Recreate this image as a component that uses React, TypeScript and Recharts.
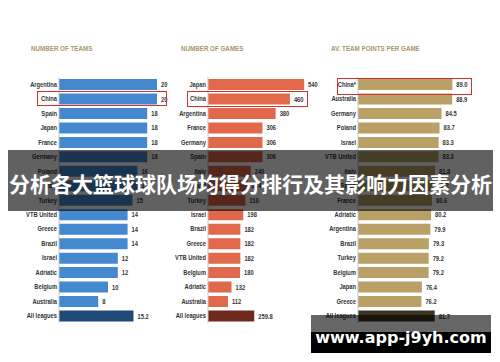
import React from 'react';
import { BarChart, Bar, XAxis, YAxis, Cell, LabelList } from 'recharts';

const teamsCats = ['Argentina', 'China', 'Spain', 'Japan', 'France', 'Germany', 'Poland', 'Italy', 'Turkey', 'VTB United', 'Greece', 'Brazil', 'Israel', 'Adriatic', 'Belgium', 'Australia', 'All leagues'];
const teamsVals = [20, 20, 18, 18, 18, 18, 16, 16, 15, 14, 14, 14, 12, 12, 10, 8, 15.2];

const gamesCats = ['Japan', 'China', 'Argentina', 'France', 'Germany', 'Spain', 'Italy', 'Poland', 'Turkey', 'Israel', 'Brazil', 'Greece', 'VTB United', 'Belgium', 'Adriatic', 'Australia', 'All leagues'];
const gamesVals = [540, 460, 380, 306, 306, 306, 240, 224, 210, 198, 182, 182, 182, 180, 132, 112, 259.8];

const pointsCats = ['China*', 'Australia', 'Germany', 'Poland', 'Israel', 'VTB United', 'Italy', 'Spain', 'France', 'Adriatic', 'Argentina', 'Brazil', 'Turkey', 'Belgium', 'Japan', 'Greece', 'All leagues'];
const pointsVals = [89.0, 88.9, 84.5, 83.7, 83.3, 83.3, 81.8, 81.2, 80.6, 80.2, 79.9, 79.3, 79.2, 79.2, 76.4, 76.2, 81.7];

const titles = ['NUMBER OF TEAMS', 'NUMBER OF GAMES', 'AV. TEAM POINTS PER GAME'];
const bannerText = '分析各大篮球球队场均得分排行及其影响力因素分析';
const watermark = 'www.app-j9yh.com';

const FONT = '"Liberation Sans", Arial, sans-serif';

function CatTick(props: any) {
  const { x, y, payload } = props;
  return (
    <g transform={`translate(${x},${y}) scale(0.8,1)`}>
      <text x={0} y={0} dy="0.35em" textAnchor="end" fontSize={7.2} fontWeight={700} fill="#333" fontFamily={FONT}>
        {payload.value}
      </text>
    </g>
  );
}

function makeValueLabel(fmt: (v: number) => string) {
  return function ValueLabel(props: any) {
    const { x, y, width, height, value } = props;
    const tx = Number(x) + Number(width) + 4;
    const ty = Number(y) + Number(height) / 2;
    return (
      <g transform={`translate(${tx},${ty}) scale(0.8,1)`}>
        <text x={0} y={0} dy="0.35em" textAnchor="start" fontSize={7.2} fontWeight={700} fill="#333" fontFamily={FONT}>
          {fmt(Number(value))}
        </text>
      </g>
    );
  };
}

type PanelProps = {
  left: number;
  axisW: number;
  plotW: number;
  rightPad: number;
  domain: [number, number];
  cats: string[];
  vals: number[];
  color: string;
  dark: string;
  fmt: (v: number) => string;
};

function Panel({ left, axisW, plotW, rightPad, domain, cats, vals, color, dark, fmt }: PanelProps) {
  const data = cats.map((c, i) => ({ name: c, value: vals[i] }));
  const width = axisW + plotW + rightPad;
  const Label = makeValueLabel(fmt);
  return (
    <div style={{ position: 'absolute', left, top: 0 }}>
      <BarChart
        width={width}
        height={362}
        layout="vertical"
        data={data}
        margin={{ top: 77, bottom: 39, left: 0, right: rightPad }}
        barSize={11}
      >
        <XAxis type="number" domain={domain} hide allowDataOverflow />
        <YAxis
          type="category"
          dataKey="name"
          width={axisW}
          interval={0}
          tickLine={false}
          tickSize={0}
          tickMargin={2}
          axisLine={{ stroke: '#c8c8c8', strokeWidth: 1 }}
          tick={<CatTick />}
        />
        <Bar dataKey="value" isAnimationActive={false}>
          {data.map((d, i) => (
            <Cell key={i} fill={d.name === 'All leagues' ? dark : color} />
          ))}
          <LabelList dataKey="value" content={<Label />} />
        </Bar>
      </BarChart>
    </div>
  );
}

export default function App() {
  return (
    <div style={{ position: 'absolute', left: 0, top: 0, width: 500, height: 362, background: '#fff', overflow: 'hidden' }}>
      <Panel left={0} axisW={59} plotW={117.6} rightPad={20} domain={[0, 24]} cats={teamsCats} vals={teamsVals} color="#4489d0" dark="#1f4a78" fmt={(v) => String(v)} />
      <Panel left={150} axisW={58} plotW={106.8} rightPad={20} domain={[0, 600]} cats={gamesCats} vals={gamesVals} color="#e0684b" dark="#6e2b1d" fmt={(v) => String(v)} />
      <Panel left={300} axisW={58} plotW={108.9} rightPad={30} domain={[50, 95]} cats={pointsCats} vals={pointsVals} color="#b8a067" dark="#3d3322" fmt={(v) => v.toFixed(1)} />

      {titles.map((t, i) => (
        <div
          key={t}
          style={{
            position: 'absolute',
            left: [31, 181, 331][i],
            top: 45,
            fontFamily: FONT,
            fontWeight: 700,
            fontSize: 8,
            lineHeight: '8px',
            color: '#a8986a',
            whiteSpace: 'nowrap',
            transform: 'scaleX(0.78)',
            transformOrigin: 'left top',
          }}
        >
          {t}
        </div>
      ))}

      {/* highlight boxes */}
      <div style={{ position: 'absolute', left: 37, top: 91, width: 130, height: 15, border: '1.5px solid #d42f2f', boxSizing: 'border-box' }} />
      <div style={{ position: 'absolute', left: 187, top: 91, width: 121, height: 16, border: '1.5px solid #d42f2f', boxSizing: 'border-box' }} />
      <div style={{ position: 'absolute', left: 337, top: 78, width: 135, height: 17, border: '1.5px solid #d42f2f', boxSizing: 'border-box' }} />

      {/* banner */}
      <div
        style={{
          position: 'absolute',
          left: 8,
          top: 150,
          width: 485,
          height: 61,
          background: 'rgba(0,0,0,0.62)',
          display: 'flex',
          alignItems: 'center',
          justifyContent: 'center',
          color: '#fff',
          fontFamily: '"Noto Sans CJK SC", sans-serif',
          fontWeight: 700,
          fontSize: 21,
          whiteSpace: 'nowrap',
          paddingTop: 4,
          boxSizing: 'border-box',
        }}
      >
        {bannerText}
      </div>

      {/* watermark */}
      <div style={{ position: 'absolute', left: 311, top: 315, width: 180, height: 17, background: 'rgba(0,0,0,0.6)' }} />
      <div style={{ position: 'absolute', left: 311, top: 332, width: 180, height: 21, background: '#000' }} />
      <div
        style={{
          position: 'absolute',
          left: 311,
          top: 326,
          width: 180,
          height: 22,
          display: 'flex',
          alignItems: 'center',
          justifyContent: 'center',
          color: '#fff',
          fontFamily: '"DejaVu Sans", sans-serif',
          fontWeight: 700,
          fontSize: 16,
          whiteSpace: 'nowrap',
        }}
      >
        {watermark}
      </div>
    </div>
  );
}
